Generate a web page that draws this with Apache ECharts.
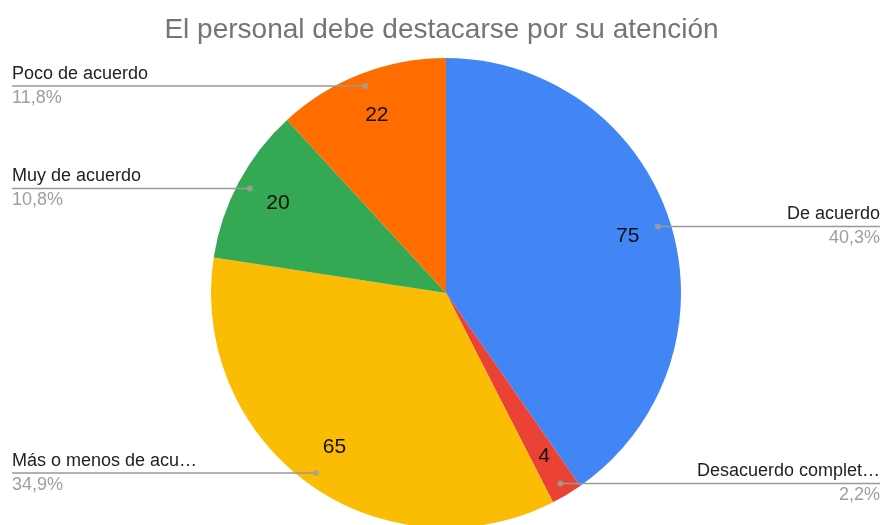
<!DOCTYPE html>
<html>
<head>
<meta charset="utf-8">
<script src="https://cdn.jsdelivr.net/npm/echarts@6/dist/echarts.min.js"></script>
<style>
  html, body { margin: 0; padding: 0; background: #fff; }
  #main { width: 883px; height: 525px; }
</style>
</head>
<body>
<div id="main"></div>
<script>
// datos
const categories = ['De acuerdo', 'Desacuerdo completamente', 'Más o menos de acuerdo', 'Muy de acuerdo', 'Poco de acuerdo']
const values = [75, 4, 65, 20, 22]
const colors = ['#4285F4', '#EA4335', '#FBBC04', '#34A853', '#FF6D01']
const title = 'El personal debe destacarse por su atención'

const total = values.reduce((a, b) => a + b, 0)
const pieData = categories.map((name, i) => ({ name: name, value: values[i] }))
const pct = (v) => (v / total * 100).toFixed(1).replace('.', ',') + '%'

// ángulo medio de cada porción (en unidades de valor)
let acc = 0
const mids = values.map((v) => {
  const mid = acc + v / 2
  acc += v
  return mid
})
const DOT_R = 0.945
const dots = mids.map((m) => [DOT_R, m])

const CX = 446, CY = 293, R = 235
const font = '"Liberation Sans", Arial, sans-serif'

const chart = echarts.init(document.getElementById('main'))
chart.setOption({
  animation: false,
  title: {
    text: title,
    left: 'center',
    top: 16,
    padding: 0,
    textStyle: { color: '#757575', fontSize: 28, fontWeight: 'normal', fontFamily: font }
  },
  polar: { center: [CX, CY], radius: R },
  angleAxis: { type: 'value', min: 0, max: total, startAngle: 90, clockwise: true, show: false },
  radiusAxis: { type: 'value', min: 0, max: 1, show: false },
  series: [
    {
      // tarta principal
      type: 'pie',
      z: 1,
      center: [CX, CY],
      radius: [0, R],
      startAngle: 90,
      silent: true,
      data: pieData,
      color: colors,
      label: { show: false },
      labelLine: { show: false }
    },
    {
      // valores dentro de cada porción
      type: 'pie',
      z: 2,
      center: [CX, CY],
      radius: [140, R],
      startAngle: 90,
      silent: true,
      data: pieData,
      itemStyle: { color: 'transparent' },
      label: {
        show: true,
        position: 'inside',
        formatter: '{c}',
        fontSize: 21,
        color: '#111',
        fontFamily: font
      },
      labelLine: { show: false }
    },
    {
      // etiquetas exteriores con nombre y porcentaje
      type: 'pie',
      z: 3,
      left: 12,
      right: 3,
      top: 0,
      bottom: 0,
      center: [CX - 12, CY],
      radius: [0, R * DOT_R],
      startAngle: 90,
      silent: true,
      data: pieData,
      itemStyle: { color: 'transparent' },
      label: {
        show: true,
        position: 'outside',
        alignTo: 'edge',
        edgeDistance: 0,
        width: 190,
        overflow: 'truncate',
        ellipsis: '…',
        formatter: (p) => '{n|' + p.name + '}\n{p|' + pct(p.value) + '}',
        rich: {
          n: { fontSize: 18, color: '#222', lineHeight: 24, fontFamily: font },
          p: { fontSize: 18, color: '#9e9e9e', lineHeight: 24, fontFamily: font }
        }
      },
      labelLine: {
        show: true,
        length: 0,
        length2: 10,
        lineStyle: { color: '#999', width: 1.5 }
      },
      labelLayout: function (params) {
        const rect = params.labelRect
        if (!rect) return {}
        const a = mids[params.dataIndex] / total * Math.PI * 2
        const sx = CX + R * DOT_R * Math.sin(a)
        const sy = CY - R * DOT_R * Math.cos(a)
        const isLeft = rect.x + rect.width / 2 < CX
        const farX = isLeft ? rect.x : rect.x + rect.width
        return { labelLinePoints: [[sx, sy], [sx, sy], [farX, sy]] }
      }
    },
    {
      // puntos grises
      type: 'scatter',
      coordinateSystem: 'polar',
      symbolSize: 6,
      silent: true,
      z: 5,
      itemStyle: { color: '#a0a0a0' },
      data: dots
    }
  ]
})
</script>
</body>
</html>
